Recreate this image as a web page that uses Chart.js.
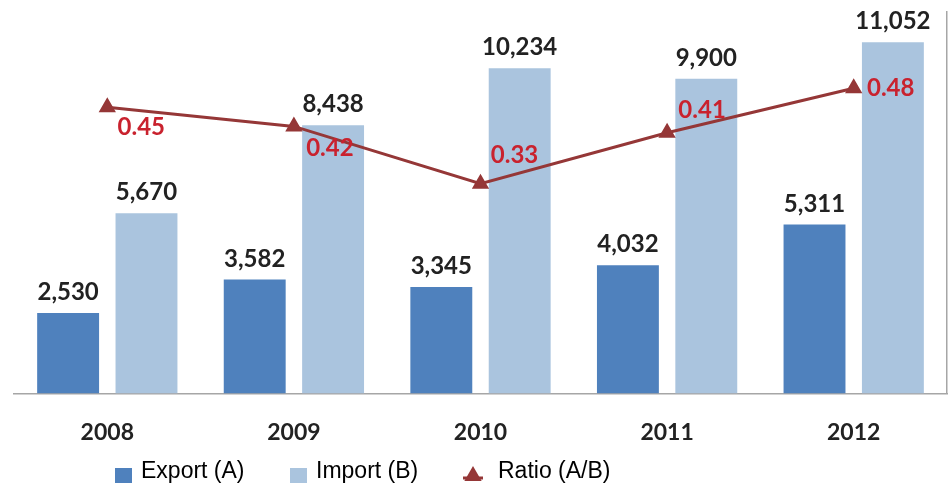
<!DOCTYPE html>
<html>
<head>
<meta charset="utf-8">
<style>
  html, body { margin: 0; padding: 0; background: #fff; overflow: hidden; }
  #wrap { width: 949px; height: 488px; position: relative; }
  #wrap canvas { display: block; }
</style>
<script src="https://cdn.jsdelivr.net/npm/chart.js@4/dist/chart.umd.min.js"></script>
</head>
<body>
<div id="wrap"><canvas id="chart"></canvas></div>
<script>
// ─── Data ───
var years = ['2008', '2009', '2010', '2011', '2012'];
var exportValues = [2530, 3582, 3345, 4032, 5311];
var importValues = [5670, 8438, 10234, 9900, 11052];
var ratioValues = [0.45, 0.42, 0.33, 0.41, 0.48];

// label offsets for the ratio values (px from the marker)
var ratioLabelOffsets = [[34, 20], [36, 22], [34, -28], [35, -23], [37, 0]];
// legend item start positions (px)
var legendX = [115, 290, 463];

var EXPORT_COLOR = '#4F81BD';
var IMPORT_COLOR = '#AAC4DE';
var RATIO_COLOR = '#953737';
var RATIO_LABEL = '#C9222E';
var AXIS_COLOR = '#A6A6A6';

function fmt(v) { return v.toLocaleString('en-US'); }

var valueLabels = {
  id: 'valueLabels',
  afterDatasetsDraw: function (chart) {
    var ctx = chart.ctx;
    ctx.save();
    chart.data.datasets.forEach(function (ds, i) {
      var meta = chart.getDatasetMeta(i);
      meta.data.forEach(function (el, j) {
        var v = ds.data[j];
        if (ds.type === 'line') {
          var off = ratioLabelOffsets[j];
          ctx.font = 'bold 24px Lato';
          ctx.fillStyle = RATIO_LABEL;
          ctx.textAlign = 'center';
          ctx.textBaseline = 'middle';
          ctx.fillText(v.toFixed(2), el.x + off[0], el.y + off[1]);
        } else {
          ctx.font = 'bold 24px Lato';
          ctx.fillStyle = '#222';
          ctx.textAlign = 'center';
          ctx.textBaseline = 'alphabetic';
          ctx.fillText(fmt(v), el.x, el.y - 13);
        }
      });
    });
    ctx.restore();
  }
};

var customLegend = {
  id: 'customLegend',
  afterDraw: function (chart) {
    var ctx = chart.ctx;
    var y = 476;
    ctx.save();
    ctx.font = '23px "Liberation Sans", Arial';
    ctx.textBaseline = 'middle';
    ctx.textAlign = 'left';
    // order in legend: Export, Import, Ratio
    [1, 2, 0].forEach(function (di, k) {
      var ds = chart.data.datasets[di];
      var x = legendX[k];
      if (ds.type === 'line') {
        ctx.strokeStyle = ds.borderColor;
        ctx.lineWidth = 3;
        ctx.beginPath();
        ctx.moveTo(x, y + 2);
        ctx.lineTo(x + 20, y + 2);
        ctx.stroke();
        Chart.helpers.drawPoint(ctx, { pointStyle: 'triangle', radius: 7, borderWidth: 1 }, x + 10, y);
        ctx.fillStyle = ds.borderColor;
        ctx.fill();
        ctx.fillStyle = '#000';
        ctx.fillText(ds.label, x + 35, y - 4);
      } else {
        ctx.fillStyle = ds.backgroundColor;
        ctx.fillRect(x, y - 8, 17, 15);
        ctx.fillStyle = '#000';
        ctx.fillText(ds.label, x + 26, y - 4);
      }
    });
    ctx.restore();
  }
};

new Chart(document.getElementById('chart'), {
  type: 'bar',
  data: {
    labels: years,
    datasets: [
      {
        type: 'line',
        label: 'Ratio (A/B)',
        data: ratioValues,
        yAxisID: 'y1',
        borderColor: RATIO_COLOR,
        backgroundColor: RATIO_COLOR,
        borderWidth: 3,
        tension: 0,
        pointStyle: 'triangle',
        pointRadius: 8,
        pointBorderWidth: 2,
        pointBackgroundColor: RATIO_COLOR,
        pointBorderColor: RATIO_COLOR
      },
      {
        label: 'Export (A)',
        data: exportValues,
        backgroundColor: EXPORT_COLOR,
        yAxisID: 'y',
        categoryPercentage: 0.84,
        barPercentage: 0.79
      },
      {
        label: 'Import (B)',
        data: importValues,
        backgroundColor: IMPORT_COLOR,
        yAxisID: 'y',
        categoryPercentage: 0.84,
        barPercentage: 0.79
      }
    ]
  },
  options: {
    responsive: true,
    maintainAspectRatio: false,
    animation: false,
    layout: { autoPadding: false, padding: { left: 14, right: 2, top: 12, bottom: 17 } },
    plugins: {
      legend: { display: false },
      tooltip: { enabled: false }
    },
    scales: {
      x: {
        grid: { display: false, drawTicks: false },
        border: { color: AXIS_COLOR, width: 1.5 },
        ticks: { color: '#222', padding: 25, font: { family: 'Lato', weight: 'bold', size: 23 } }
      },
      y: {
        display: false,
        min: 0,
        max: 12000
      },
      y1: {
        position: 'right',
        min: 0,
        max: 0.6,
        grid: { display: false, drawTicks: false },
        border: { color: AXIS_COLOR, width: 1.5 },
        ticks: { display: false },
        afterFit: function (scale) { scale.width = 0; }
      }
    }
  },
  plugins: [valueLabels, customLegend]
});
</script>
</body>
</html>
